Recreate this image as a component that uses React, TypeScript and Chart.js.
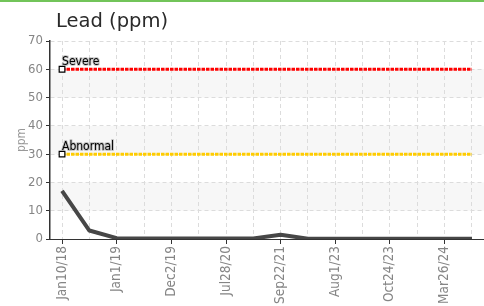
import React, { useEffect, useRef } from 'react';
import { Chart, registerables } from 'chart.js';

Chart.register(...registerables);

// ---- data ----
const chartTitle = 'Lead (ppm)';
const yAxisTitle = 'ppm';
const dateLabels = [
  'Jan10/18', '', 'Jan1/19', '', 'Dec2/19', '', 'Jul28/20', '',
  'Sep22/21', '', 'Aug1/23', '', 'Oct24/23', '', 'Mar26/24', '',
];
const leadValues = [17, 3, 0.3, 0.2, 0.2, 0.2, 0.2, 0.2, 1.5, 0.1, 0.1, 0.1, 0.1, 0.1, 0.1, 0.1];
const severeLabel = 'Severe';
const severeLevel = 60;
const abnormalLabel = 'Abnormal';
const abnormalLevel = 30;
const yMin = 0;
const yMax = 70;
const yStep = 10;
const bandRanges = [
  [50, 60],
  [30, 40],
  [10, 20],
];

const FONT = '"DejaVu Sans Condensed", "Liberation Sans Narrow", sans-serif';

const bandPlugin = {
  id: 'bands',
  beforeDraw(chart: any) {
    const { ctx, chartArea, scales } = chart;
    const y = scales.y;
    ctx.save();
    ctx.fillStyle = '#f7f7f7';
    for (const [lo, hi] of bandRanges) {
      const top = y.getPixelForValue(hi);
      const bot = y.getPixelForValue(lo);
      ctx.fillRect(chartArea.left, top, chartArea.right - chartArea.left, bot - top);
    }
    ctx.restore();
  },
};

const thresholdLabelPlugin = {
  id: 'thresholdLabels',
  afterDatasetsDraw(chart: any) {
    const { ctx } = chart;
    chart.data.datasets.forEach((ds: any, i: number) => {
      if (!ds.thresholdText) return;
      const meta = chart.getDatasetMeta(i);
      const pt = meta.data[0];
      if (!pt) return;
      ctx.save();
      ctx.font = `12px ${FONT}`;
      ctx.textAlign = 'left';
      ctx.textBaseline = 'alphabetic';
      ctx.lineJoin = 'round';
      ctx.strokeStyle = 'rgba(150,150,150,0.5)';
      ctx.lineWidth = 2;
      ctx.strokeText(ds.thresholdText, pt.x, pt.y - 4);
      ctx.fillStyle = '#000';
      ctx.fillText(ds.thresholdText, pt.x, pt.y - 4);
      ctx.restore();
    });
  },
};

export default function App() {
  const canvasRef = useRef<HTMLCanvasElement | null>(null);

  useEffect(() => {
    const canvas = canvasRef.current;
    if (!canvas) return;
    const firstIdx = 0;
    const lastIdx = leadValues.length - 1;
    const chart = new Chart(canvas, {
      type: 'line',
      data: {
        datasets: [
          {
            label: 'Lead',
            data: leadValues.map((v, i) => ({ x: i, y: v })),
            borderColor: '#474747',
            borderWidth: 4,
            borderJoinStyle: 'round',
            pointRadius: 0,
            tension: 0,
          },
          {
            label: severeLabel,
            thresholdText: severeLabel,
            data: [
              { x: firstIdx, y: severeLevel },
              { x: lastIdx, y: severeLevel },
            ],
            borderColor: '#ff0000',
            borderWidth: 3,
            borderDash: [3.5, 1],
            pointStyle: 'rect',
            pointRadius: [4, 0],
            pointBackgroundColor: '#ffffff',
            pointBorderColor: '#000000',
            pointBorderWidth: 1.2,
          },
          {
            label: abnormalLabel,
            thresholdText: abnormalLabel,
            data: [
              { x: firstIdx, y: abnormalLevel },
              { x: lastIdx, y: abnormalLevel },
            ],
            borderColor: '#ffcc00',
            borderWidth: 3,
            borderDash: [3.5, 1],
            pointStyle: 'rect',
            pointRadius: [4, 0],
            pointBackgroundColor: '#ffffff',
            pointBorderColor: '#000000',
            pointBorderWidth: 1.2,
          },
        ] as any,
      },
      options: {
        animation: false,
        responsive: false,
        devicePixelRatio: 1,
        layout: { padding: { left: 0, top: 41, right: 10.7, bottom: 0 } },
        plugins: {
          legend: { display: false },
          tooltip: { enabled: false },
          title: { display: false },
        },
        scales: {
          x: {
            type: 'linear',
            min: -0.44,
            max: 16,
            afterFit: (s: any) => {
              s.height = 67;
              s.paddingLeft = 0;
              s.paddingRight = 0;
            },
            ticks: {
              stepSize: 1,
              includeBounds: false,
              autoSkip: false,
              maxRotation: 90,
              minRotation: 90,
              padding: 2,
              color: '#858585',
              font: { family: FONT, size: 13.5 },
              callback: (v: any) => dateLabels[v] ?? '',
            },
            grid: {
              color: '#dcdcdc',
              lineWidth: 1,
              tickLength: 5,
              tickWidth: 1,
              tickColor: (ctx: any) =>
                dateLabels[ctx.tick?.value] ? '#333' : 'rgba(0,0,0,0)',
            },
            border: { color: '#333', width: 1, dash: [4, 3] },
          },
          y: {
            min: yMin,
            max: yMax,
            afterFit: (s: any) => {
              s.width = 50;
            },
            ticks: {
              stepSize: yStep,
              padding: 3,
              color: '#858585',
              font: { family: FONT, size: 13 },
            },
            grid: {
              color: '#dcdcdc',
              lineWidth: 1,
              tickLength: 4,
              tickWidth: 1,
              tickColor: '#333',
            },
            border: { color: '#333', width: 1.5, dash: [4, 3] },
            title: {
              display: true,
              text: yAxisTitle,
              color: '#999',
              font: { family: FONT, size: 12 },
              padding: { top: 15, bottom: 0 },
            },
          },
        },
      } as any,
      plugins: [bandPlugin, thresholdLabelPlugin],
    });
    return () => chart.destroy();
  }, []);

  return (
    <div
      style={{
        position: 'fixed',
        left: 0,
        top: 0,
        width: 484,
        height: 306,
        overflow: 'hidden',
        background: '#fff',
      }}
    >
      <div
        style={{
          position: 'absolute',
          left: 0,
          top: 0,
          width: 484,
          height: 2,
          background: '#72c459',
        }}
      />
      <canvas
        ref={canvasRef}
        width={510}
        height={306}
        style={{ position: 'absolute', left: 0, top: 0, width: 510, height: 306 }}
      />
      <div
        style={{
          position: 'absolute',
          left: 56,
          top: 11,
          fontFamily: '"DejaVu Sans", sans-serif',
          fontSize: '19.5px',
          lineHeight: '19.5px',
          color: '#2a2a2a',
          whiteSpace: 'nowrap',
        }}
      >
        {chartTitle}
      </div>
    </div>
  );
}
